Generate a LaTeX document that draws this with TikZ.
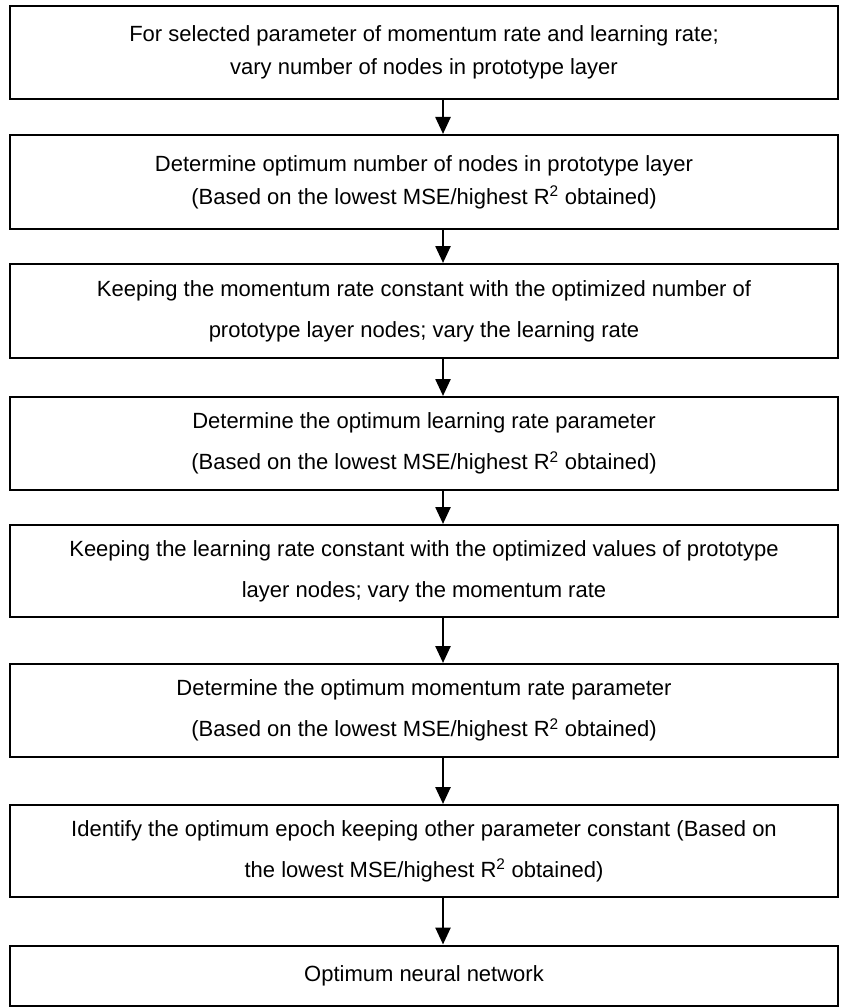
\documentclass[tikz,border=0pt]{standalone}
\usepackage{fontspec}
\setmainfont{Liberation Sans}
\usetikzlibrary{arrows.meta}
\tikzset{
  stepbox/.style={draw=black, line width=2pt, rectangle, minimum width=828pt, inner sep=0pt, align=center,
    font=\fontsize{22}{33}\selectfont},
  widebox/.style={stepbox, font=\fontsize{22}{41}\selectfont},
  arr/.style={line width=2.5pt, -{Triangle[width=15pt,length=17pt]}}
}
\begin{document}
\begin{tikzpicture}[x=1pt,y=-1pt]
\useasboundingbox (0,0) rectangle (841,1008);
\node[stepbox, minimum height=93pt] (b1) at (424,52.5) {For selected parameter of momentum rate and learning rate;\\vary number of nodes in prototype layer};
\node[stepbox, minimum height=94pt] (b2) at (424,182) {Determine optimum number of nodes in prototype layer\\(Based on the lowest MSE/highest R\textsuperscript{2} obtained)};
\node[widebox, minimum height=94pt] (b3) at (424,311) {Keeping the momentum rate constant with the optimized number of\\prototype layer nodes; vary the learning rate};
\node[widebox, minimum height=93pt] (b4) at (424,443.5) {Determine the optimum learning rate parameter\\(Based on the lowest MSE/highest R\textsuperscript{2} obtained)};
\node[widebox, minimum height=92pt] (b5) at (424,571) {Keeping the learning rate constant with the optimized values of prototype\\layer nodes; vary the momentum rate};
\node[widebox, minimum height=93pt] (b6) at (424,710.5) {Determine the optimum momentum rate parameter\\(Based on the lowest MSE/highest R\textsuperscript{2} obtained)};
\node[widebox, minimum height=92pt] (b7) at (424,851) {Identify the optimum epoch keeping other parameter constant (Based on\\the lowest MSE/highest R\textsuperscript{2} obtained)};
\node[stepbox, minimum height=60pt] (b8) at (424,975.5) {Optimum neural network};
\coordinate (ax) at (443,0);
\foreach \a/\b in {b1/b2,b2/b3,b3/b4,b4/b5,b5/b6,b6/b7,b7/b8}
  \draw[arr] (\a.south -| ax) -- (\b.north -| ax);
\end{tikzpicture}
\end{document}
